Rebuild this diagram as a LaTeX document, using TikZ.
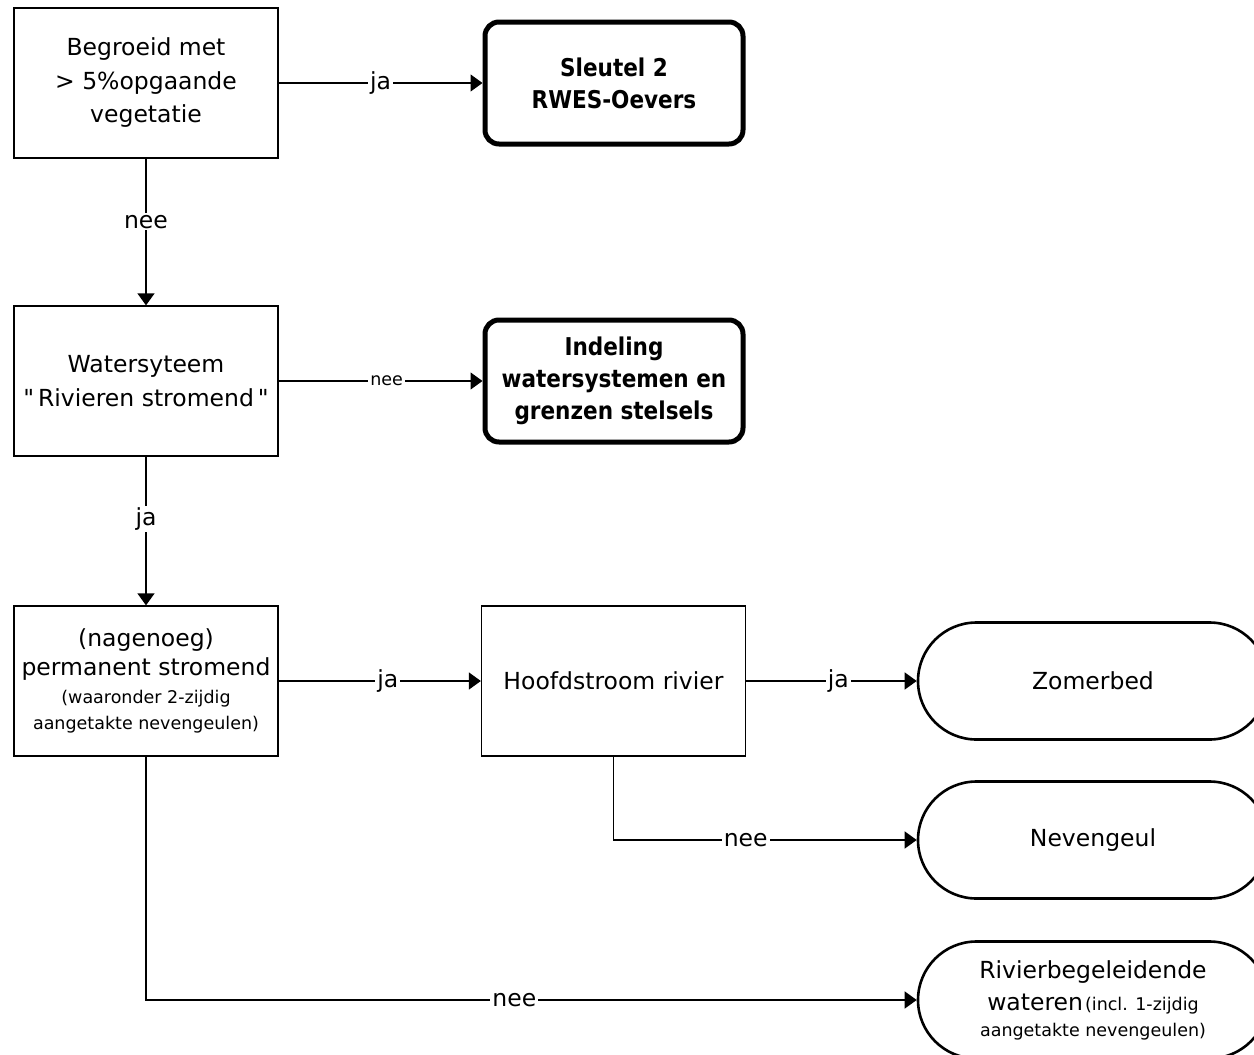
\documentclass[tikz,border=0pt]{standalone}
\usepackage{fontspec}
\setmainfont{DejaVu Sans}[Ligatures=TeXOff]
\newfontfamily\condfam[FakeStretch=0.88]{DejaVu Sans}
\usetikzlibrary{arrows.meta,shapes.misc}

\newcommand\mainsz{\fontsize{23.5}{34}\selectfont}
\newcommand\smallsz{\fontsize{17.5}{26}\selectfont}
\newcommand\keysz{\condfam\bfseries\fontsize{24.5}{32}\selectfont}

\begin{document}
\begin{tikzpicture}[x=1pt,y=-1pt,
  decision/.style={draw, line width=1.3pt, minimum width=264pt, minimum height=150pt,
    inner sep=0pt, align=center, font=\mainsz},
  keybox/.style={draw, line width=5pt, rounded corners=14pt, minimum width=258pt,
    minimum height=122pt, inner sep=0pt, align=center, font=\keysz},
  terminal/.style={draw, line width=2.6pt, rounded rectangle, rounded rectangle arc length=180,
    minimum width=350pt, minimum height=117pt, inner sep=0pt, align=center, font=\mainsz},
  flow/.style={line width=1.3pt, -{Triangle[length=12pt,width=17pt]}},
  lbl/.style={fill=white, inner xsep=2pt, inner ysep=2pt, font=\mainsz},
  lblsmall/.style={lbl, font=\smallsz}]

\useasboundingbox (0,0) rectangle (1254,1055);
\clip (0,0) rectangle (1254,1055);

% decision boxes
\node[decision] (b1) at (146,83) {Begroeid met\\[0pt] > 5\%opgaande\\[-1pt] vegetatie};
\node[decision] (b3) at (146,381) {Watersyteem\\[0pt] "\,Rivieren stromend\,"};
\node[decision] (b5) at (146,681) {(nagenoeg)\\[-5pt] permanent stromend\\[-6pt]
  {\smallsz (waaronder 2-zijdig}\\[-8pt] {\smallsz aangetakte nevengeulen)}};
\node[decision] (b6) at (613.5,681) {Hoofdstroom rivier};

% references to other keys
\node[keybox] (b2) at (614,83) {Sleutel 2\\ RWES-Oevers};
\node[keybox] (b4) at (614,381) {Indeling\\ watersystemen en\\ grenzen stelsels};

% end results
\node[terminal] (t1) at (1093,681) {Zomerbed};
\node[terminal] (t2) at (1093,840) {Nevengeul};
\node[terminal] (t3) at (1093,1000) {Rivierbegeleidende\\[-2pt]
  wateren\hspace{2pt}{\smallsz (incl. 1-zijdig}\\[-8pt] {\smallsz aangetakte nevengeulen)}};

% connectors
\draw[flow] (b1) -- coordinate[pos=0.43] (l2) (b3);
\draw[flow] (b1) -- coordinate (l1) (b2);
\draw[flow] (b3) -- coordinate[pos=0.53] (l3) (b4);
\draw[flow] (b3) -- coordinate[pos=0.42] (l4) (b5);
\draw[flow] (b5) -- coordinate[pos=0.54] (l5) (b6);
\draw[flow] (b6) -- coordinate[pos=0.54] (l6) (t1);
\draw[flow] (b6.south) |- coordinate[pos=0.718] (l7) (t2.west);
\draw[flow] (b5.south) |- coordinate[pos=0.739] (l8) (t3.west);

% answers on the connectors
\node[lbl] (a1) at (l1) {ja};
\node[lbl] (a2) at (l2) {nee};
\node[lblsmall] (a3) at (l3) {nee};
\node[lbl] (a4) at (l4) {ja};
\node[lbl] (a5) at (l5) {ja};
\node[lbl] (a6) at (l6) {ja};
\node[lbl] (a7) at (l7) {nee};
\node[lbl] (a8) at (l8) {nee};
\end{tikzpicture}
\end{document}
